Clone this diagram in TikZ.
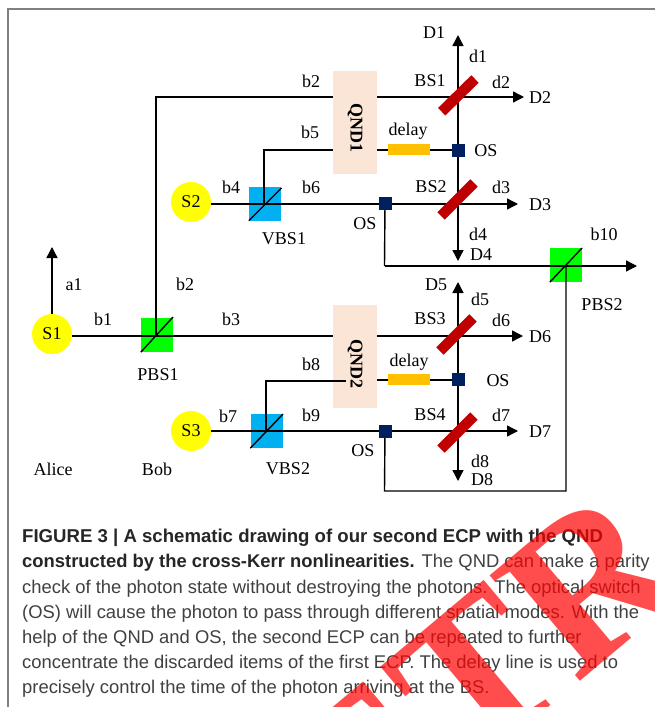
\documentclass[tikz,border=0pt]{standalone}
\usepackage{fontspec}
\setmainfont{Liberation Serif}
\newfontfamily\capfont{Liberation Sans}
\usetikzlibrary{arrows.meta}
\definecolor{srcY}{HTML}{FFFF00}
\definecolor{pbsG}{HTML}{00FF00}
\definecolor{vbsB}{HTML}{00B0F0}
\definecolor{qndC}{HTML}{FBE5D6}
\definecolor{delayC}{HTML}{FFC000}
\definecolor{osC}{HTML}{002060}
\definecolor{bsC}{HTML}{C00000}
\tikzset{
  ray/.style={line width=1.4pt,draw=black},
  arr/.style={ray,-{Triangle[length=11pt,width=11pt]}},
  src/.style={circle,fill=srcY,minimum size=40pt,inner sep=0pt,font=\fontsize{18}{20}\selectfont},
  cube/.style={minimum width=32pt,minimum height=34pt,inner sep=0pt},
  osw/.style={fill=osC,minimum size=13pt,inner sep=0pt},
  qnd/.style={fill=qndC,minimum width=44pt,minimum height=103pt,inner sep=0pt},
  dly/.style={fill=delayC,minimum width=42pt,minimum height=11pt,inner sep=0pt},
  bs/.style={line width=10.5pt,draw=bsC},
  lab/.style={font=\fontsize{18}{20}\selectfont,inner sep=0pt},
  qlab/.style={font=\fontsize{18}{20}\selectfont\bfseries,rotate=-90,inner sep=0pt},
}
\begin{document}
\begin{tikzpicture}[x=1pt,y=-1pt]
\useasboundingbox (0,0) rectangle (655,707);
\fill[white] (0,0) rectangle (655,707);
\draw[line width=1.5pt,draw=black!50] (8,707) -- (8,9) -- (655,9);
% filled components
\node[qnd] (qnd1) at (355,122.5) {};
\node[qnd] (qnd2) at (355,356.5) {};
\node[cube,fill=vbsB] (vbs1) at (265,203.5) {};
\node[cube,fill=vbsB] (vbs2) at (266.5,431) {};
\node[cube,fill=pbsG] (pbs1) at (157,335) {};
\node[cube,fill=pbsG] (pbs2) at (566,265) {};
\node[src] (s1) at (52,334) {S1};
\node[src] (s2) at (191,202) {S2};
\node[src] (s3) at (191,431) {S3};
\coordinate (d1) at (458,35);
\coordinate (d4) at (458,261);
\coordinate (d5) at (458,282);
\coordinate (d8) at (458,481);
\coordinate (d2) at (524,97);
\coordinate (d3) at (518,204);
\coordinate (d6) at (523,336);
\coordinate (d7) at (518,431);
\coordinate (a1) at (52,247);
\coordinate (b10) at (637,266);
\coordinate (j2) at (156,97);
\coordinate (j5) at (264,150);
\coordinate (j8) at (266,381);
\coordinate (v1) at (264,204);
\coordinate (v2) at (266,431);
\coordinate (k1) at (384.5,266);
\coordinate (k2) at (384.5,491);
\coordinate (k3) at (566,491);
\coordinate (q5) at (333,150);
\coordinate (q8) at (346,381);
\coordinate (bsb) at (458,204);
\coordinate (bsc) at (458,336);
\coordinate (bsd) at (458,431);
\coordinate (b1a) at (441.7,111.7);
\coordinate (b1b) at (475,79);
\coordinate (b2a) at (441,216);
\coordinate (b2b) at (474,183);
\coordinate (b3a) at (440,351);
\coordinate (b3b) at (473,318);
\coordinate (b4a) at (441,449);
\coordinate (b4b) at (474,416);
% rays
\draw[arr] (s1) -- (a1);
\draw[ray] (s1.east |- bsc) -- (qnd2.west |- bsc);
\draw[ray] (156,336) -- (j2) -- (qnd1.west |- j2);
\draw[arr] (qnd1.east |- j2) -- (d2);
\draw[arr] (qnd2.east |- d6) -- (d6);
\draw[ray] (s2.east |- v1) -- (v1) -- (bsb);
\draw[arr] (bsb) -- (d3);
\draw[ray] (v1) -- (j5) -- (q5);
\draw[ray] (s3.east) -- (v2) -- (bsd);
\draw[arr] (bsd) -- (d7);
\draw[ray] (v2) -- (j8) -- (q8);
\draw[arr] (458,150) -- (d1);
\draw[arr] (458,150) -- (d4);
\draw[arr] (458,380) -- (d5);
\draw[arr] (458,380) -- (d8);
\draw[ray] (qnd1.east |- q5) -- (458,150);
\draw[ray] (qnd2.east |- 0,380) -- (458,380);
\draw[ray] (385,204) -- (k1);
\draw[arr] (k1) -- (b10);
\draw[ray] (385,431) -- (k2) -- (k3) -- (566,266);
% splitters
\draw[line width=1.4pt] (vbs1.south west) -- (281.5,188);
\draw[line width=1.4pt] (vbs2.south west) -- (283,414);
\draw[line width=1.4pt] (pbs1.south west) -- (173,317);
\draw[line width=1.4pt] (pbs2.south west) -- (582,248);
% delay, switches, beam splitters
\node[dly] (dl1) at (409,149.5) {};
\node[dly] (dl2) at (409,379.5) {};
\node[osw] (os1) at (458,150.5) {};
\node[osw] (os2) at (385.5,203.5) {};
\node[osw] (os3) at (458.5,379.5) {};
\node[osw] (os4) at (385.5,431.5) {};
\draw[bs] (b1a) -- (b1b);
\draw[bs] (b2a) -- (b2b);
\draw[bs] (b3a) -- (b3b);
\draw[bs] (b4a) -- (b4b);
% labels
\node[qlab] (tq1) at (355,128) {QND1};
\node[qlab] (tq2) at (355,364) {QND2};
\node[lab] (t01) at (311,81) {b2};
\node[lab] (t02) at (310,132) {b5};
\node[lab] (t03) at (231,187) {b4};
\node[lab] (t04) at (311,187) {b6};
\node[lab] (t05) at (284,239) {VBS1};
\node[lab] (t06) at (434,33) {D1};
\node[lab] (t07) at (478,56) {d1};
\node[lab] (t08) at (430,81) {BS1};
\node[lab] (t09) at (501,82) {d2};
\node[lab] (t10) at (540,98) {D2};
\node[lab] (t11) at (408,131) {delay};
\node[lab] (t12) at (486,151) {OS};
\node[lab] (t13) at (431,187) {BS2};
\node[lab] (t14) at (501,187) {d3};
\node[lab] (t15) at (540,205) {D3};
\node[lab] (t16) at (365,224) {OS};
\node[lab] (t17) at (478,234) {d4};
\node[lab] (t18) at (481,255) {D4};
\node[lab] (t19) at (604,234) {b10};
\node[lab] (t20) at (74,285) {a1};
\node[lab] (t21) at (185,284) {b2};
\node[lab] (t22) at (103,319) {b1};
\node[lab] (t23) at (231,319) {b3};
\node[lab] (t24) at (158,375) {PBS1};
\node[lab] (t25) at (311,364) {b8};
\node[lab] (t26) at (228,416) {b7};
\node[lab] (t27) at (311,415) {b9};
\node[lab] (t28) at (53,469) {Alice};
\node[lab] (t29) at (157,469) {Bob};
\node[lab] (t30) at (288,469) {VBS2};
\node[lab] (t31) at (436,285) {D5};
\node[lab] (t32) at (480,299) {d5};
\node[lab] (t33) at (430,319) {BS3};
\node[lab] (t34) at (501,320) {d6};
\node[lab] (t35) at (540,337) {D6};
\node[lab] (t36) at (409,362) {delay};
\node[lab] (t37) at (498,381) {OS};
\node[lab] (t38) at (430,415) {BS4};
\node[lab] (t39) at (501,415) {d7};
\node[lab] (t40) at (540,432) {D7};
\node[lab] (t41) at (363,451) {OS};
\node[lab] (t42) at (480,461) {d8};
\node[lab] (t43) at (482,480) {D8};
\node[lab] (t44) at (602,305) {PBS2};
% caption
\node[anchor=north west,inner sep=0pt,align=left,text=black!75,font=\capfont\fontsize{18.4}{25.2}\selectfont] (cap) at (22,529) {\frenchspacing
{\bfseries\color{black!85}\fontsize{18.6}{25.2}\selectfont FIGURE 3 | A schematic drawing of our second ECP with the QND}\\
{\bfseries\color{black!85}\fontsize{18.4}{25.2}\selectfont constructed by the cross-Kerr nonlinearities.} The QND can make a parity\\
check of the photon state without destroying the photons. The optical switch\\
(OS) will cause the photon to pass through different spatial modes. With the\\
help of the QND and OS, the second ECP can be repeated to further\\
concentrate the discarded items of the first ECP. The delay line is used to\\
precisely control the time of the photon arriving at the BS.};
% watermark
\begin{scope}
\clip (0,505) rectangle (655,707);
\node[anchor=base,rotate=40,text=red,opacity=0.7,inner sep=0pt,font=\fontsize{212}{212}\selectfont\bfseries] (wm) at (752,537) {RETRACTED};
\end{scope}
\end{tikzpicture}
\end{document}
